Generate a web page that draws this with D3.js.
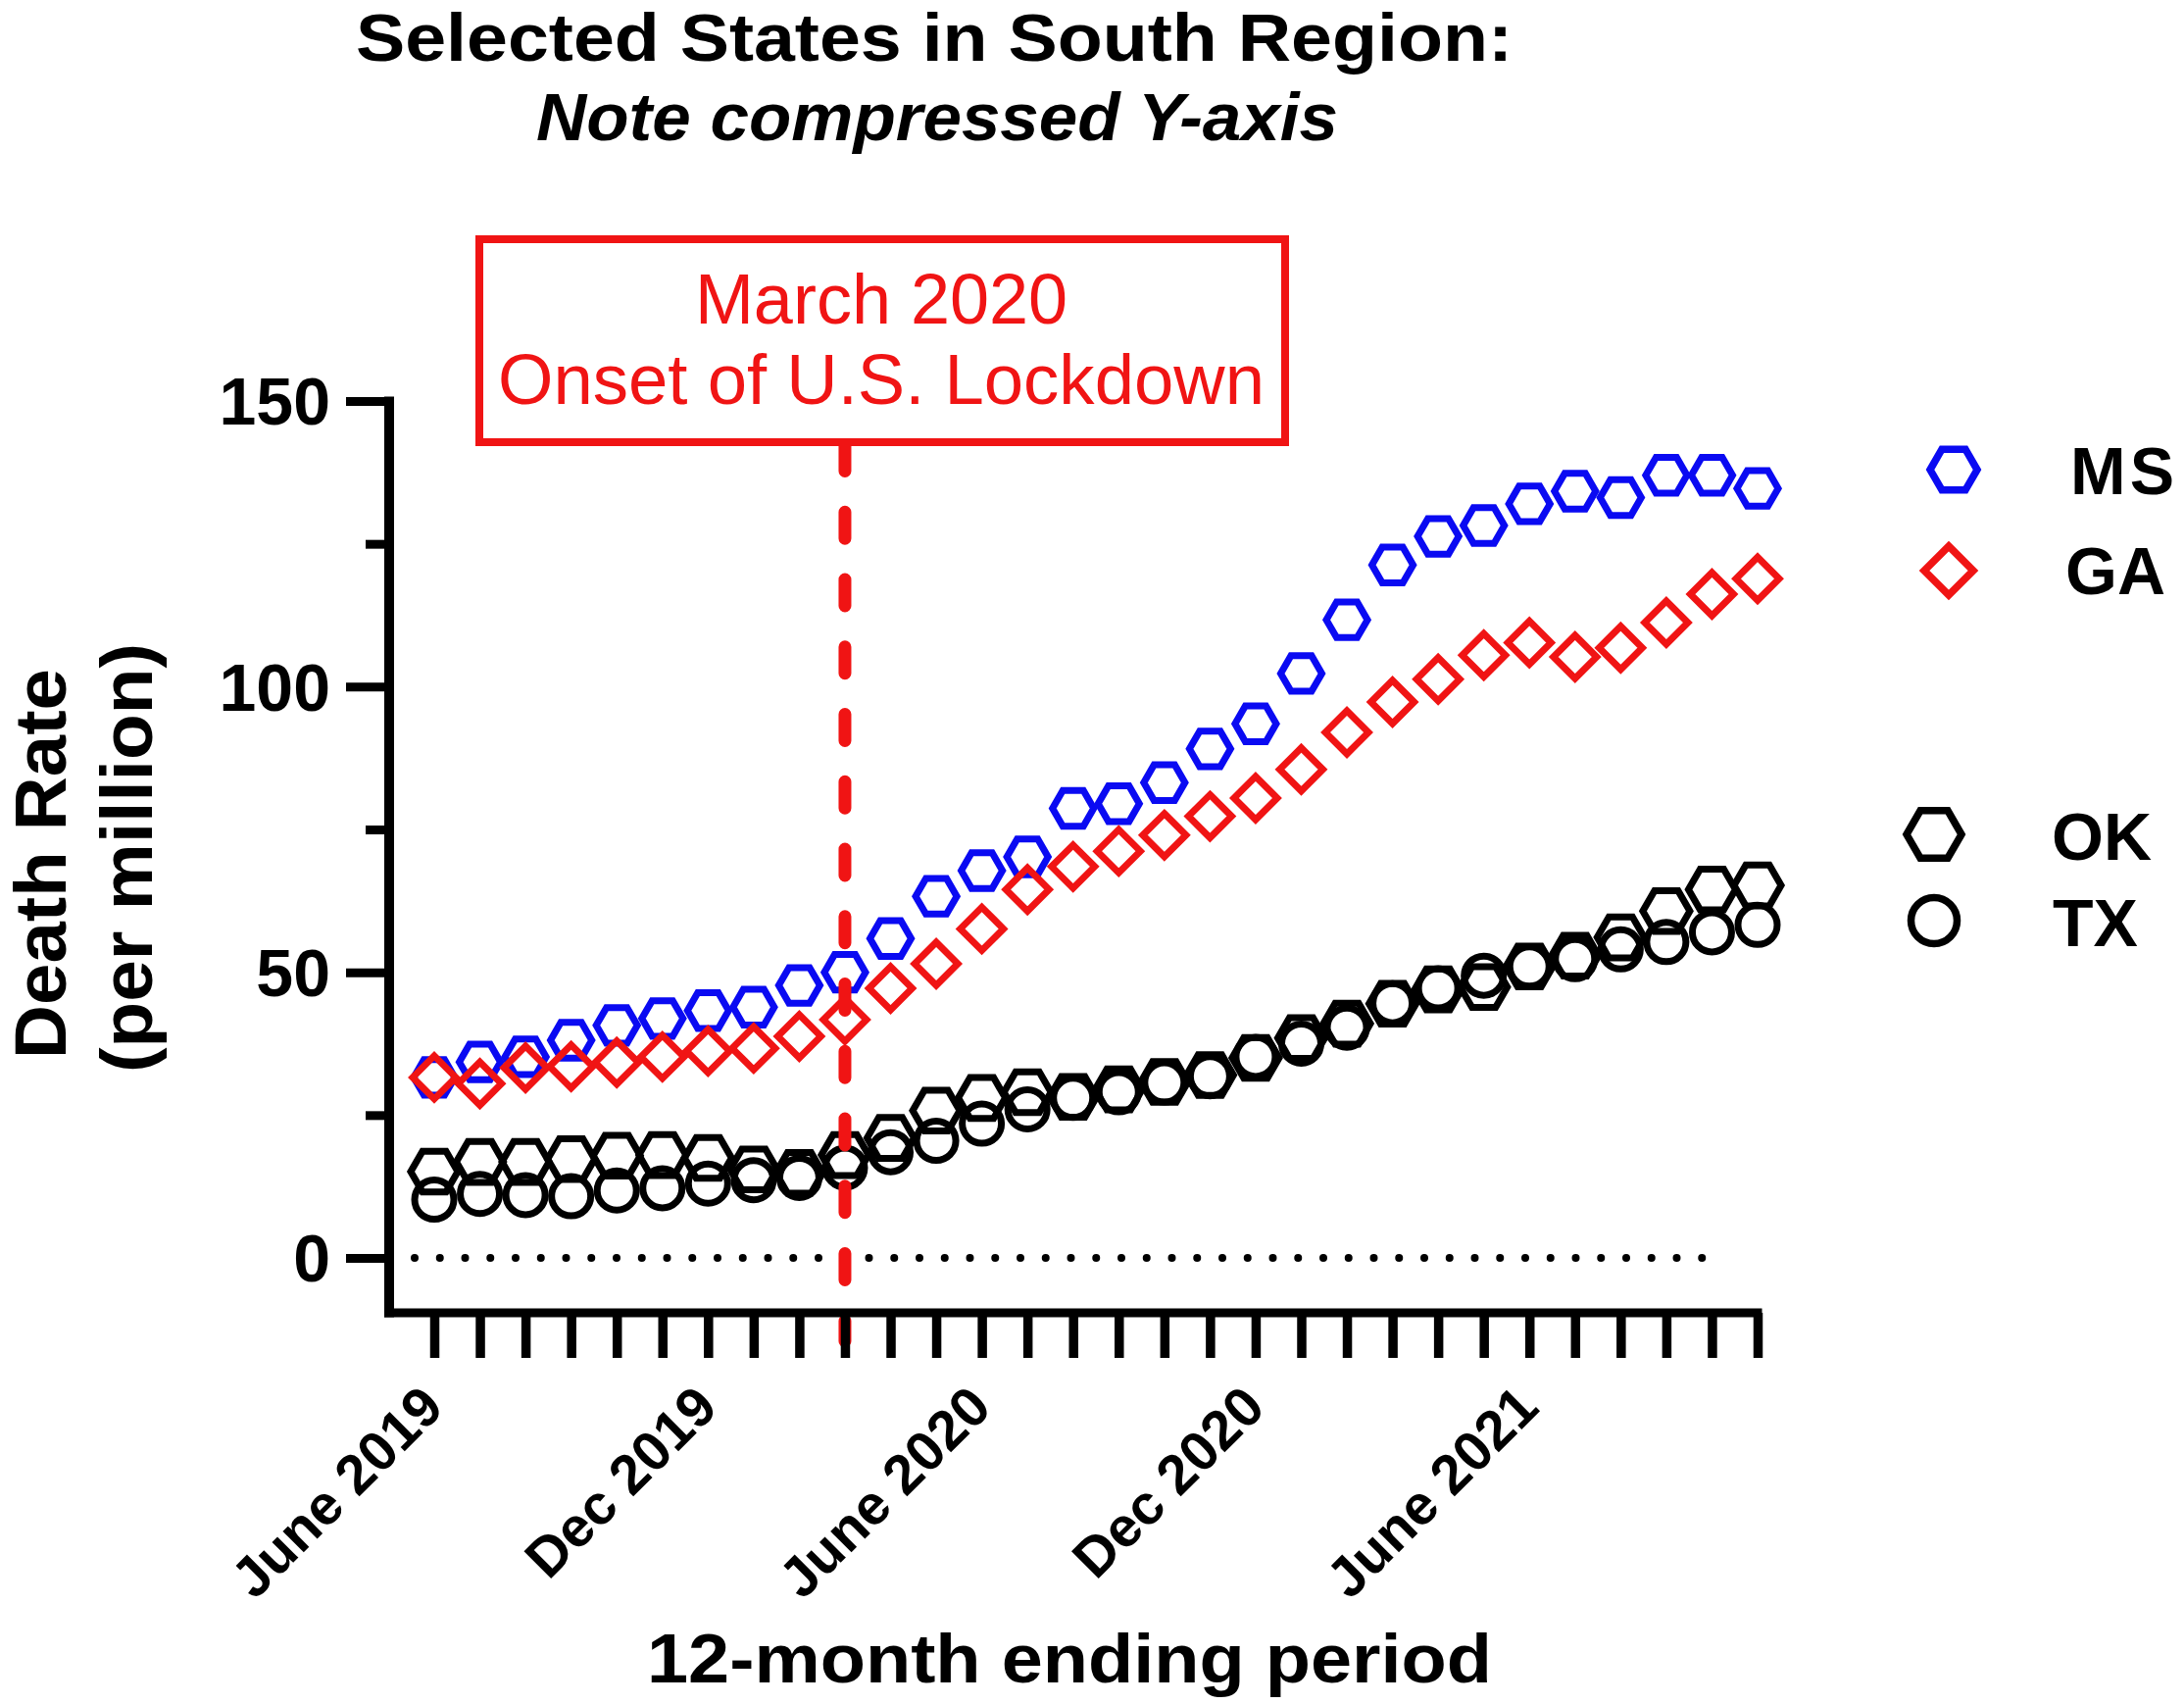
<!DOCTYPE html>
<html><head><meta charset="utf-8">
<script src="https://cdn.jsdelivr.net/npm/d3@7"></script>
<style>
body{margin:0;background:#fff}
svg{display:block}
text{font-family:"Liberation Sans",Arial,Helvetica,sans-serif}
</style>
</head><body>
<svg id="c" width="2228" height="1738"></svg>
<script>
// ---- data ----
const months = ["Jun 2019","Jul 2019","Aug 2019","Sep 2019","Oct 2019","Nov 2019","Dec 2019",
  "Jan 2020","Feb 2020","Mar 2020","Apr 2020","May 2020","Jun 2020","Jul 2020","Aug 2020",
  "Sep 2020","Oct 2020","Nov 2020","Dec 2020","Jan 2021","Feb 2021","Mar 2021","Apr 2021",
  "May 2021","Jun 2021","Jul 2021","Aug 2021","Sep 2021","Oct 2021","Nov 2021"];
const labelIndex = [0, 6, 12, 18, 24];
const labelText = ["June 2019", "Dec 2019", "June 2020", "Dec 2020", "June 2021"];
const yMajorTicks = [0, 50, 100, 150];
const yMinorTicks = [25, 75, 125];
const lockdownIndex = 9;

const MS = [31.6, 34.3, 35.2, 38.1, 40.7, 41.9, 43.3, 43.9, 47.7, 50.0, 55.9, 63.3, 67.8, 70.2, 78.7,
            79.5, 83.2, 89.1, 93.5, 102.3, 111.7, 121.3, 126.3, 128.2, 132.0, 134.2, 133.1, 137.0, 137.0, 134.7];
const GA = [31.6, 30.5, 33.3, 33.5, 34.2, 35.2, 36.2, 36.7, 38.8, 41.7, 47.2, 51.5, 57.6, 64.5, 68.5,
            71.2, 74.0, 77.3, 80.5, 85.5, 92.0, 97.3, 101.3, 105.5, 107.7, 105.2, 106.8, 111.2, 116.2, 118.9];
const OK = [15.1, 16.8, 16.8, 17.3, 17.9, 18.0, 17.5, 15.5, 14.9, 18.0, 21.0, 25.8, 28.0, 29.0, 28.2,
            29.5, 30.8, 32.0, 35.0, 38.5, 41.0, 44.5, 47.0, 47.4, 51.0, 52.9, 56.1, 60.7, 64.5, 65.2];
const TX = [10.2, 11.2, 11.0, 10.8, 11.8, 12.2, 13.0, 13.6, 14.0, 15.8, 18.5, 20.5, 23.5, 26.0, 28.0,
            29.0, 30.7, 31.8, 35.2, 37.5, 40.3, 44.6, 47.2, 49.4, 51.0, 52.3, 54.0, 55.3, 57.0, 58.3];

const seriesNames = ["MS", "GA", "OK", "TX"];
const seriesColors = ["#0a0af2", "#f01414", "#000000", "#000000"];
const seriesShapes = ["hexagon", "diamond", "hexagon", "circle"];

// ---- drawing ----
const svg = d3.select("#c");
const FONT = '"Liberation Sans", Arial, Helvetica, sans-serif';
const RED = "#f01414";

const x = d3.scaleLinear().domain([0, months.length - 1]).range([443, 1793]);
const y = d3.scaleLinear().domain([0, 150]).range([1283, 409]);

function hexPath(r) {
  const h = r * Math.sqrt(3) / 2;
  return `M${r},0L${r/2},${h}L${-r/2},${h}L${-r},0L${-r/2},${-h}L${r/2},${-h}Z`;
}
function diamondPath(r) { return `M0,${-r}L${r},0L0,${r}L${-r},0Z`; }
function circlePath(r) { return `M${r},0A${r},${r} 0 1,1 ${-r},0A${r},${r} 0 1,1 ${r},0Z`; }
function shapePath(shape, scale) {
  if (shape === "hexagon") return hexPath(scale.hex);
  if (shape === "diamond") return diamondPath(scale.dia);
  return circlePath(scale.cir);
}
const dataSizes = [{hex:21}, {dia:22}, {hex:24}, {cir:20}];
const legendSizes = [{hex:24}, {dia:25}, {hex:28}, {cir:23.5}];

// title
svg.append("text").attr("x", 953).attr("y", 62).attr("text-anchor", "middle")
  .attr("font-size", 68).attr("font-weight", "bold")
  .attr("textLength", 1180).attr("lengthAdjust", "spacingAndGlyphs")
  .text("Selected States in South Region:");
svg.append("text").attr("x", 956).attr("y", 143).attr("text-anchor", "middle")
  .attr("font-size", 68).attr("font-weight", "bold").attr("font-style", "italic")
  .attr("textLength", 818).attr("lengthAdjust", "spacingAndGlyphs")
  .text("Note compressed Y-axis");

// zero dotted line
svg.append("line").attr("x1", 423).attr("x2", 1740).attr("y1", y(0)).attr("y2", y(0))
  .attr("stroke", "#000").attr("stroke-width", 8).attr("stroke-linecap", "round")
  .attr("stroke-dasharray", "0 25.75");

// data series
const allSeries = [MS, GA, OK, TX];
allSeries.forEach((vals, si) => {
  svg.append("g").selectAll("path").data(vals).join("path")
    .attr("d", shapePath(seriesShapes[si], dataSizes[si]))
    .attr("transform", (d, i) => `translate(${x(i)},${y(d)})`)
    .attr("fill", "none").attr("stroke", seriesColors[si])
    .attr("stroke-width", 7).attr("stroke-linejoin", "miter");
});

// lockdown line
svg.append("line").attr("x1", x(lockdownIndex)).attr("x2", x(lockdownIndex))
  .attr("y1", 453.5).attr("y2", 1368)
  .attr("stroke", RED).attr("stroke-width", 13).attr("stroke-linecap", "round")
  .attr("stroke-dasharray", "27 41.75");

// annotation box
svg.append("rect").attr("x", 489).attr("y", 244).attr("width", 822).attr("height", 207)
  .attr("fill", "none").attr("stroke", RED).attr("stroke-width", 8);
svg.append("text").attr("x", 899).attr("y", 330).attr("text-anchor", "middle")
  .attr("font-size", 72).attr("fill", RED).text("March 2020");
svg.append("text").attr("x", 899).attr("y", 412).attr("text-anchor", "middle")
  .attr("font-size", 72).attr("fill", RED)
  .attr("textLength", 782).attr("lengthAdjust", "spacingAndGlyphs")
  .text("Onset of U.S. Lockdown");

// x axis
const xAxisY = 1339;
const gx = svg.append("g").attr("transform", `translate(0,${xAxisY})`)
  .call(d3.axisBottom(x).tickValues(d3.range(months.length)).tickSize(46).tickFormat(""));
gx.select(".domain").remove();
gx.selectAll(".tick line").attr("stroke", "#000").attr("stroke-width", 9.5);
svg.append("line").attr("x1", 392).attr("x2", 1797.5).attr("y1", xAxisY).attr("y2", xAxisY)
  .attr("stroke", "#000").attr("stroke-width", 9);

labelIndex.forEach((idx, k) => {
  svg.append("text")
    .attr("transform", `translate(${x(idx) + 12},1438) rotate(-45)`)
    .attr("text-anchor", "end").attr("font-size", 57).attr("font-weight", "bold")
    .text(labelText[k]);
});

// y axis
const yAxisX = 397;
const gy = svg.append("g").attr("transform", `translate(${yAxisX},0)`)
  .call(d3.axisLeft(y).tickValues(yMajorTicks).tickSize(44).tickPadding(16));
gy.select(".domain").remove();
gy.selectAll(".tick line").attr("stroke", "#000").attr("stroke-width", 9);
gy.selectAll(".tick text").attr("font-family", FONT).attr("font-size", 68)
  .attr("font-weight", "bold").attr("fill", "#000").attr("dy", "0.35em");
const gyMinor = svg.append("g").attr("transform", `translate(${yAxisX},0)`)
  .call(d3.axisLeft(y).tickValues(yMinorTicks).tickSize(24).tickFormat(""));
gyMinor.select(".domain").remove();
gyMinor.selectAll(".tick line").attr("stroke", "#000").attr("stroke-width", 9);
svg.append("line").attr("x1", yAxisX).attr("x2", yAxisX).attr("y1", y(150) - 4.5).attr("y2", xAxisY + 4.5)
  .attr("stroke", "#000").attr("stroke-width", 10);

// axis titles
svg.append("text").attr("transform", "translate(67,881) rotate(-90)")
  .attr("text-anchor", "middle").attr("font-size", 74).attr("font-weight", "bold")
  .attr("textLength", 398).attr("lengthAdjust", "spacingAndGlyphs")
  .text("Death Rate");
svg.append("text").attr("transform", "translate(155,875) rotate(-90)")
  .attr("text-anchor", "middle").attr("font-size", 75).attr("font-weight", "bold")
  .attr("textLength", 438).attr("lengthAdjust", "spacingAndGlyphs")
  .text("(per million)");
svg.append("text").attr("x", 1091).attr("y", 1716).attr("text-anchor", "middle")
  .attr("font-size", 70).attr("font-weight", "bold")
  .attr("textLength", 862).attr("lengthAdjust", "spacingAndGlyphs")
  .text("12-month ending period");

// legend
const legendMarkerX = [1993, 1988, 1973, 1973];
const legendMarkerY = [479, 582, 851, 939];
const legendLabelX = [2112, 2107, 2093, 2094];
const legendLabelY = [504, 606, 877, 965];
seriesNames.forEach((name, si) => {
  svg.append("path").attr("d", shapePath(seriesShapes[si], legendSizes[si]))
    .attr("transform", `translate(${legendMarkerX[si]},${legendMarkerY[si]})`)
    .attr("fill", "none").attr("stroke", seriesColors[si]).attr("stroke-width", 7.5);
  svg.append("text").attr("x", legendLabelX[si]).attr("y", legendLabelY[si])
    .attr("font-size", 68).attr("font-weight", "bold").attr("letter-spacing", si === 0 ? 4 : 0)
    .text(name);
});
</script>
</body></html>
